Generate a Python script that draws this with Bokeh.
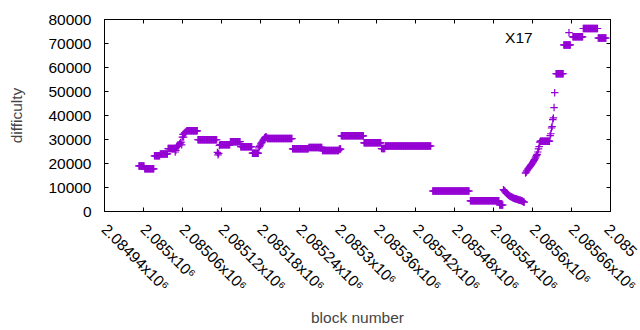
import math
from bokeh.plotting import figure
from bokeh.models import Range1d, FixedTicker, LinearAxis, Label, ColumnDataSource
from bokeh.embed import file_html
from bokeh.resources import INLINE

# ---- data ----
# plateaus: consecutive blocks sharing the same difficulty
run_start = [2084993, 2085002, 2085017, 2085026, 2085038, 2085067, 2085084, 2085118,
             2085134, 2085150, 2085168, 2085191, 2085230, 2085255, 2085276, 2085305,
             2085340, 2085367, 2085373, 2085446, 2085504, 2085549, 2085612, 2085636,
             2085648, 2085662, 2085678, 2085701]
run_end = [2085001, 2085016, 2085025, 2085037, 2085048, 2085083, 2085113, 2085133,
           2085149, 2085167, 2085177, 2085229, 2085254, 2085275, 2085301, 2085339,
           2085366, 2085372, 2085443, 2085502, 2085548, 2085554, 2085626, 2085647,
           2085658, 2085677, 2085700, 2085713]
run_diff = [19000, 17800, 23200, 24000, 26200, 33600, 29900, 27800,
            29100, 27000, 24300, 30400, 26100, 26700, 25400, 31550,
            28600, 26200, 27300, 8550, 4450, 2700, 29300, 57400,
            69400, 72800, 76250, 72300]

# individual blocks
single_block = [2085049, 2085050, 2085051, 2085052, 2085053, 2085054, 2085055, 2085056,
                2085057, 2085058, 2085059, 2085060, 2085061, 2085062, 2085063, 2085064,
                2085065, 2085066,
                2085114, 2085115, 2085116, 2085117,
                2085178, 2085179, 2085180, 2085181, 2085182, 2085183, 2085184, 2085185,
                2085186, 2085187, 2085188, 2085189, 2085190,
                2085302, 2085303, 2085304,
                2085555, 2085556, 2085557, 2085558, 2085559, 2085560, 2085561, 2085562,
                2085563, 2085564, 2085565, 2085566, 2085567, 2085568, 2085569, 2085570,
                2085571, 2085572, 2085573, 2085574, 2085575, 2085576, 2085577, 2085578,
                2085579, 2085580, 2085581, 2085582, 2085583, 2085584, 2085585, 2085586,
                2085587,
                2085589, 2085590, 2085591, 2085592, 2085593, 2085594, 2085595, 2085596,
                2085597, 2085598, 2085599, 2085600, 2085601, 2085602, 2085603, 2085604,
                2085605, 2085606, 2085607, 2085608, 2085609, 2085610, 2085611,
                2085627, 2085628, 2085629, 2085630, 2085631, 2085632, 2085633, 2085634,
                2085656]
single_diff = [24800, 25500, 26800, 27200, 27600, 27400, 27800, 28200,
               28600, 28900, 27800, 31000, 32100, 31000, 32600, 32900,
               33000, 33300,
               24600, 23600, 24200, 27500,
               26500, 27100, 27600, 28200, 28600, 28900, 29400, 29900,
               30300, 30700, 31000, 31000, 30900,
               26000, 26000, 26000,
               9100, 8800, 8500, 8100, 7800, 7500, 7300, 7000,
               6800, 6600, 6400, 6250, 6100, 5900, 5800, 5650,
               5550, 5450, 5350, 5280, 5200, 5100, 5000, 4900,
               4800, 4700, 4650, 4580, 4500, 4400, 4200, 4000,
               3900,
               16000, 16400, 16900, 17300, 17800, 18100, 18500, 18800,
               19200, 19500, 19900, 20300, 20800, 21300, 21600, 22200,
               22800, 23400, 23800, 24800, 26100, 27000, 28900,
               31600, 32400, 34800, 35400, 38300, 39000, 43300, 49500,
               74500]

series_name = "X17"
x_ticks = [2084940, 2085000, 2085060, 2085120, 2085180, 2085240, 2085300,
           2085360, 2085420, 2085480, 2085540, 2085600, 2085660, 2085720]
x_tick_labels = ["2.08494x10⁶", "2.085x10⁶", "2.08506x10⁶", "2.08512x10⁶",
                 "2.08518x10⁶", "2.08524x10⁶", "2.0853x10⁶", "2.08536x10⁶",
                 "2.08542x10⁶", "2.08548x10⁶", "2.08554x10⁶", "2.0856x10⁶",
                 "2.08566x10⁶", "2.08572x10⁶"]
y_ticks = [0, 10000, 20000, 30000, 40000, 50000, 60000, 70000, 80000]
y_tick_labels = ["0", "10000", "20000", "30000", "40000", "50000", "60000", "70000", "80000"]

# expand plateaus into one point per block
blocks, diffs = [], []
for s, e, d in zip(run_start, run_end, run_diff):
    for b in range(s, e + 1):
        blocks.append(b)
        diffs.append(d)
blocks += single_block
diffs += single_diff
src = ColumnDataSource(data=dict(block=blocks, difficulty=diffs))

FONT = "Liberation Sans"
FS = "15.5px"
COLOR = "#9400d3"

p = figure(width=640, height=330, output_backend="svg", toolbar_location=None,
           x_range=Range1d(2084940, 2085720), y_range=Range1d(0, 80000),
           min_border_left=104, min_border_right=30, min_border_top=19, min_border_bottom=119)
p.grid.visible = False
p.outline_line_color = "black"
p.outline_line_width = 1
p.background_fill_color = "white"
p.border_fill_color = "white"

p.scatter(x="block", y="difficulty", source=src, marker="cross", size=7.5,
          line_color=COLOR, line_width=1.2)

# the last tick label runs past the page edge in the original: only its start shows
shown_labels = x_tick_labels[:-1] + [x_tick_labels[-1][:5]]

xa = p.xaxis[0]
xa.ticker = FixedTicker(ticks=x_ticks)
xa.major_label_overrides = {t: l for t, l in zip(x_ticks, shown_labels)}
xa.major_label_orientation = -math.pi / 4
xa.major_tick_in = 4
xa.major_tick_out = 0
xa.minor_tick_line_color = None
xa.major_label_standoff = 15
xa.major_label_text_font = FONT
xa.major_label_text_font_size = FS
xa.major_label_text_color = "black"
xa.axis_label = "block number"
xa.axis_label_text_font = FONT
xa.axis_label_text_font_size = FS
xa.axis_label_text_font_style = "normal"
xa.axis_label_standoff = 6

ya = p.yaxis[0]
ya.ticker = FixedTicker(ticks=y_ticks)
ya.major_label_overrides = {t: l for t, l in zip(y_ticks, y_tick_labels)}
ya.major_tick_in = 4
ya.major_tick_out = 0
ya.minor_tick_line_color = None
ya.major_label_standoff = 13
ya.major_label_text_font = FONT
ya.major_label_text_font_size = FS
ya.major_label_text_color = "black"
ya.axis_label = "difficulty"
ya.axis_label_text_font = FONT
ya.axis_label_text_font_size = FS
ya.axis_label_text_font_style = "normal"
ya.axis_label_standoff = 20

top = LinearAxis(ticker=FixedTicker(ticks=x_ticks), major_tick_in=4, major_tick_out=0,
                 minor_tick_line_color=None, major_label_text_font_size="1px",
                 major_label_text_color=None, major_label_standoff=0)
p.add_layout(top, "above")
right = LinearAxis(ticker=FixedTicker(ticks=y_ticks), major_tick_in=4, major_tick_out=0,
                   minor_tick_line_color=None, major_label_text_font_size="1px",
                   major_label_text_color=None, major_label_standoff=0)
p.add_layout(right, "right")

p.add_layout(Label(x=2085600, y=72400, text=series_name, text_align="right",
                   text_baseline="alphabetic", text_font=FONT, text_font_size=FS,
                   text_color="black"))

open("out.html", "w").write(file_html(p, INLINE))
